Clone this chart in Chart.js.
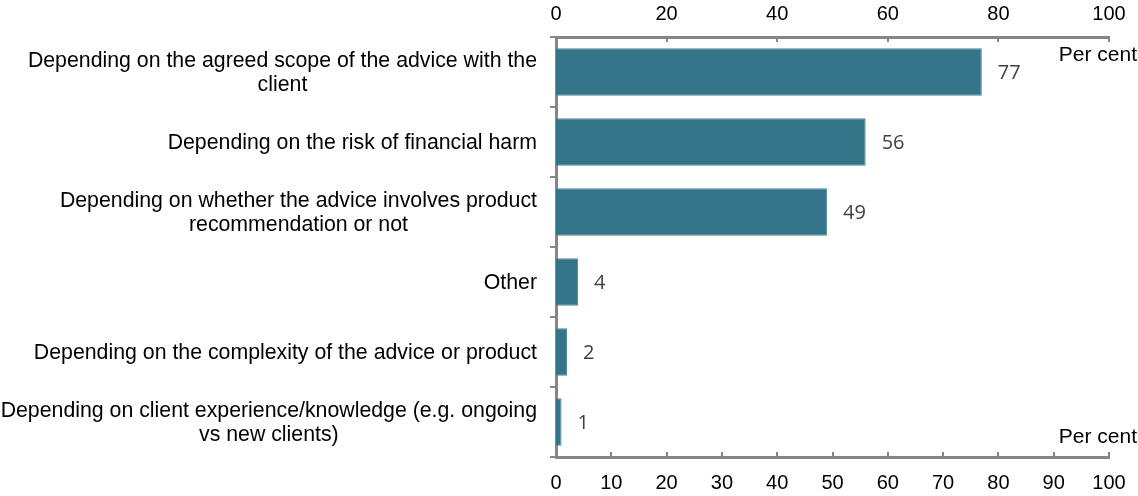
<!DOCTYPE html>
<html>
<head>
<meta charset="utf-8">
<script src="https://cdn.jsdelivr.net/npm/chart.js@4"></script>
<style>
  html, body { margin: 0; padding: 0; background: #fff; }
  #wrap { width: 1138px; height: 496px; }
</style>
</head>
<body>
<div id="wrap"><canvas id="adviceChart"></canvas></div>
<script>
// data
const categories = [
    ["Depending on the agreed scope of the advice with the", "client"],
    ["Depending on the risk of financial harm"],
    ["Depending on whether the advice involves product", "recommendation or not"],
    ["Other"],
    ["Depending on the complexity of the advice or product"],
    ["Depending on client experience/knowledge (e.g. ongoing", "vs new clients)"]
];
const values = [77, 56, 49, 4, 2, 1];
const topTicks = [0, 20, 40, 60, 80, 100];
const bottomTicks = [0, 10, 20, 30, 40, 50, 60, 70, 80, 90, 100];
const unitLabel = "Per cent";

const barColor = "#337489";
const axisColor = "#868686";
const fontFamily = "Arial, 'Liberation Sans', sans-serif";

// ticks on the x axes point inwards, so draw them by hand
const innerTicks = {
    id: "innerTicks",
    afterDraw(chart) {
        let ctx = chart.ctx;
        let area = chart.chartArea;
        ctx.save();
        ctx.strokeStyle = axisColor;
        ctx.lineWidth = 2;
        topTicks.forEach(v => {
            let x = Math.round(chart.scales.xTop.getPixelForValue(v));
            ctx.beginPath();
            ctx.moveTo(x, area.top);
            ctx.lineTo(x, area.top + 5);
            ctx.stroke();
        });
        bottomTicks.forEach(v => {
            let x = Math.round(chart.scales.x.getPixelForValue(v));
            ctx.beginPath();
            ctx.moveTo(x, area.bottom);
            ctx.lineTo(x, area.bottom - 5);
            ctx.stroke();
        });
        // unit labels
        ctx.fillStyle = "#000";
        ctx.font = "21px " + fontFamily;
        ctx.textAlign = "right";
        ctx.textBaseline = "middle";
        ctx.fillText(unitLabel, 1137, area.top + 18);
        ctx.fillText(unitLabel, 1137, area.bottom - 20);
        ctx.restore();
    }
};

// category labels: block right aligned to the axis, lines centred inside the block
const categoryLabels = {
    id: "categoryLabels",
    afterDraw(chart) {
        let ctx = chart.ctx;
        let yScale = chart.scales.y;
        let lineGap = 24.5;
        ctx.save();
        ctx.fillStyle = "#000";
        ctx.font = "21.3px " + fontFamily;
        ctx.textAlign = "center";
        ctx.textBaseline = "middle";
        categories.forEach((lines, i) => {
            let widest = Math.max(...lines.map(l => ctx.measureText(l).width));
            let cx = yScale.right - 19 - widest / 2;
            let cy = yScale.getPixelForTick(i);
            let y0 = cy - (lines.length - 1) * lineGap / 2;
            lines.forEach((l, j) => ctx.fillText(l, cx, y0 + j * lineGap + 1));
        });
        ctx.restore();
    }
};

// value labels right of the bars
const valueLabels = {
    id: "valueLabels",
    afterDatasetsDraw(chart) {
        let ctx = chart.ctx;
        let meta = chart.getDatasetMeta(0);
        ctx.save();
        ctx.fillStyle = "#404040";
        ctx.font = "20px 'Open Sans', sans-serif";
        ctx.textAlign = "left";
        ctx.textBaseline = "middle";
        meta.data.forEach((bar, i) => {
            ctx.fillText(values[i], bar.x + 16, bar.y + 1);
        });
        ctx.restore();
    }
};

let ctx = document.getElementById("adviceChart").getContext("2d");
let chart = new Chart(ctx, {
    type: "bar",
    data: {
        labels: categories,
        datasets: [{
            data: values,
            xAxisID: "x",
            backgroundColor: barColor,
            borderColor: "#4d8a9c",
            borderWidth: 1,
            categoryPercentage: 1,
            barPercentage: 0.68
        }]
    },
    options: {
        indexAxis: "y",
        responsive: true,
        maintainAspectRatio: false,
        animation: false,
        layout: { padding: { top: 0, right: 29, bottom: 0, left: 0 } },
        plugins: {
            legend: { display: false },
            tooltip: { enabled: false }
        },
        scales: {
            x: {
                position: "bottom",
                min: 0,
                max: 100,
                afterBuildTicks: s => { s.ticks = bottomTicks.map(v => ({ value: v })); },
                grid: { display: false },
                border: { display: true, color: axisColor, width: 3 },
                ticks: { color: "#000", font: { family: fontFamily, size: 20 }, padding: 6 },
                afterFit: s => { s.height = 39; }
            },
            xTop: {
                position: "top",
                min: 0,
                max: 100,
                afterBuildTicks: s => { s.ticks = topTicks.map(v => ({ value: v })); },
                grid: { display: false },
                border: { display: true, color: axisColor, width: 3 },
                ticks: { color: "#000", font: { family: fontFamily, size: 20 }, padding: 3 },
                afterFit: s => { s.height = 37; }
            },
            y: {
                grid: {
                    offset: true,
                    drawOnChartArea: false,
                    drawTicks: true,
                    tickLength: 6,
                    color: axisColor,
                    lineWidth: 2
                },
                border: { display: true, color: axisColor, width: 3 },
                ticks: { display: false },
                afterFit: s => { s.width = 556; }
            }
        }
    },
    plugins: [innerTicks, categoryLabels, valueLabels]
});
</script>
</body>
</html>
